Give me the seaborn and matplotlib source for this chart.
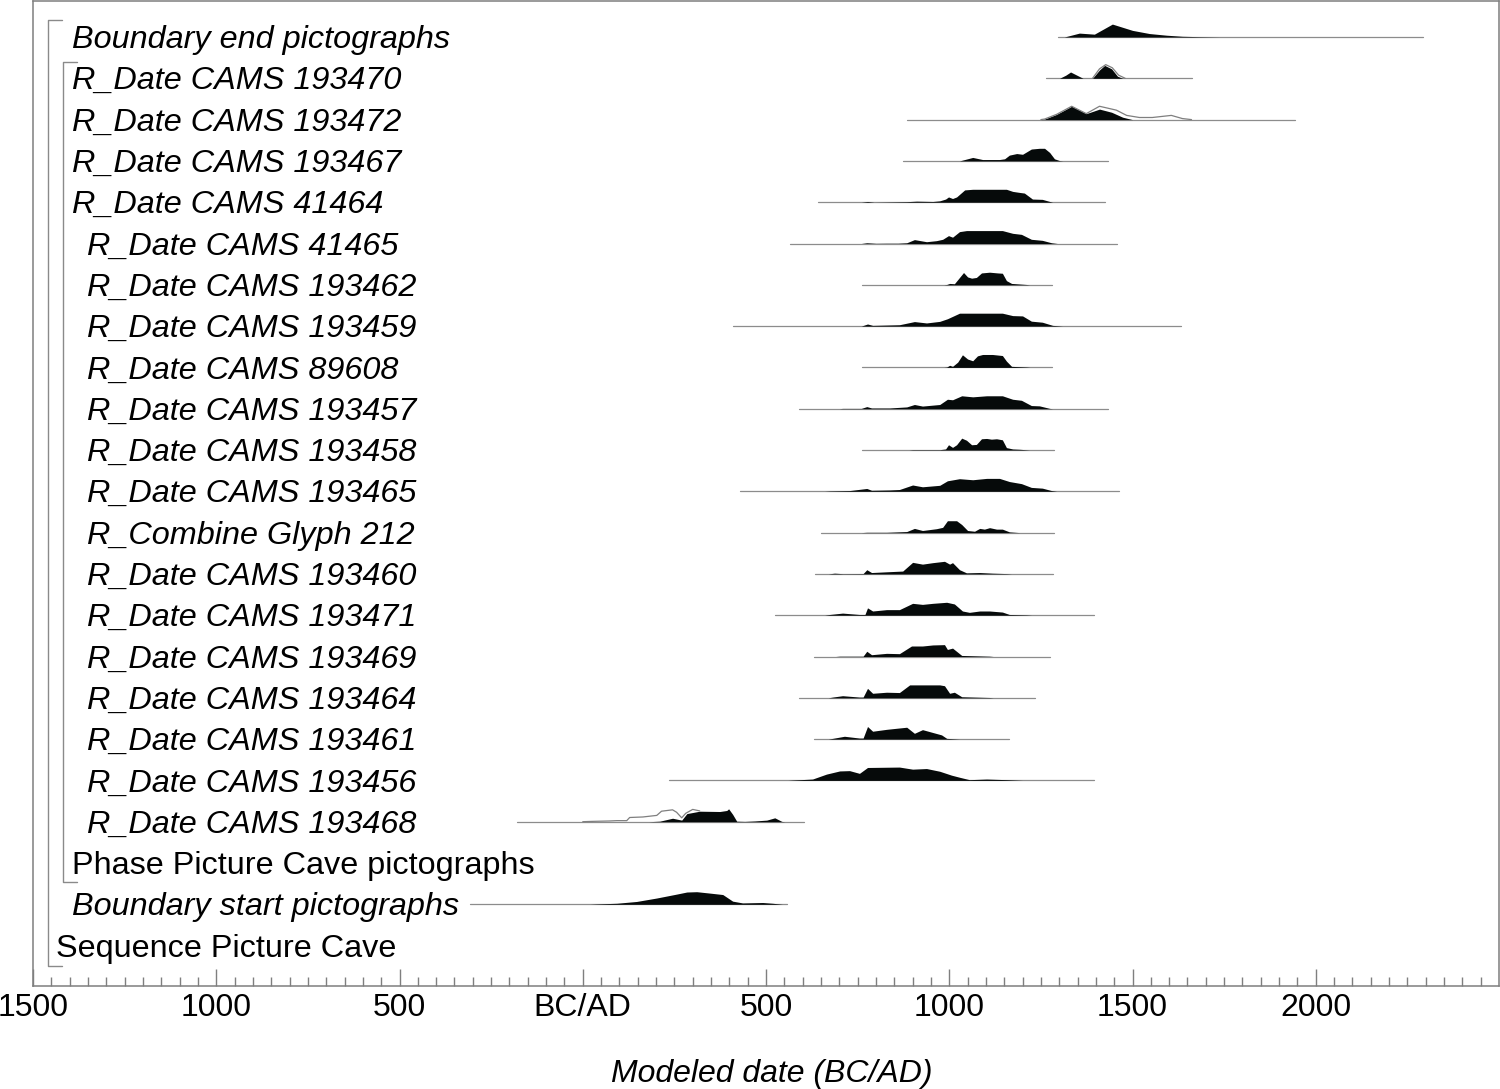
import numpy as np
import matplotlib
matplotlib.use("Agg")
import matplotlib.pyplot as plt
import seaborn as sns

# row labels, top to bottom
labels = ["Boundary end pictographs",
          "R_Date CAMS 193470", "R_Date CAMS 193472", "R_Date CAMS 193467",
          "R_Date CAMS 41464", "R_Date CAMS 41465", "R_Date CAMS 193462",
          "R_Date CAMS 193459", "R_Date CAMS 89608", "R_Date CAMS 193457",
          "R_Date CAMS 193458", "R_Date CAMS 193465", "R_Combine Glyph 212",
          "R_Date CAMS 193460", "R_Date CAMS 193471", "R_Date CAMS 193469",
          "R_Date CAMS 193464", "R_Date CAMS 193461", "R_Date CAMS 193456",
          "R_Date CAMS 193468", "Phase Picture Cave pictographs",
          "Boundary start pictographs", "Sequence Picture Cave"]
upright = ["Phase Picture Cave pictographs", "Sequence Picture Cave"]

# modelled (posterior) distributions: calendar year (AD, negative = BC) and relative probability
end_span = (1298, 2293)
end_yr = [1314, 1355, 1396, 1445, 1500, 1546, 1593, 1636, 1683, 1737]
end_p = [0, 3.7, 2.7, 12.3, 6.3, 3.3, 1.7, 0.7, 0.3, 0]

d193470_span = (1265, 1661)
d193470_yr = [1301, 1318, 1331, 1348, 1365, 1391, 1410, 1424, 1443, 1459, 1473]
d193470_p = [0, 3, 6, 3, 0, 0, 8, 12.3, 9, 2, 0]
d193470_lik_yr = [1391, 1410, 1427, 1445, 1462, 1480]
d193470_lik_p = [0, 9, 13, 10, 3, 0]

d193472_span = (884, 1944)
d193472_yr = [1250, 1260, 1293, 1334, 1374, 1410, 1443, 1473, 1500]
d193472_p = [0, 0.5, 5, 12.7, 5.7, 10, 7, 2.3, 0]
d193472_lik_yr = [1250, 1260, 1293, 1334, 1374, 1410, 1456, 1484, 1519, 1554, 1606, 1636, 1661]
d193472_lik_p = [0, 0.5, 5, 12.7, 5.7, 12.7, 9, 4, 2, 2, 4, 1, 0]

d193467_span = (873, 1434)
d193467_yr = [1028, 1064, 1091, 1137, 1151, 1164, 1184, 1200, 1224, 1246, 1260, 1274, 1287, 1301, 1310]
d193467_p = [0, 3.3, 1.3, 1.3, 2, 5.5, 7, 6.3, 11.3, 12, 12, 8, 2, 0.3, 0]

d41464_span = (641, 1426)
d41464_yr = [760, 777, 795, 884, 911, 955, 974, 990, 998, 1009, 1020, 1042, 1064, 1156, 1173,
             1192, 1205, 1227, 1254, 1274, 1282]
d41464_p = [0, 0.7, 0, 0.5, 1, 0.7, 1.3, 3, 5, 3.5, 5, 11.7, 12.3, 12.3, 10.3,
            9.3, 8.7, 3, 2.7, 0.7, 0]

d41465_span = (565, 1459)
d41465_yr = [760, 775, 800, 829, 860, 884, 905, 938, 965, 982, 998, 1009, 1028, 1047, 1145,
             1173, 1197, 1224, 1254, 1279, 1295]
d41465_p = [0, 0.7, 0.2, 0.3, 0.3, 0.7, 3.7, 1.7, 2.7, 4, 7.5, 6, 11.3, 12.3, 12.3,
            9.7, 8.7, 4, 3, 0.7, 0]

d193462_span = (761, 1279)
d193462_yr = [985, 993, 1001, 1014, 1028, 1039, 1050, 1061, 1074, 1088, 1110, 1132, 1145, 1156,
              1170, 1211, 1219]
d193462_p = [0, 0.3, 1.3, 1, 7, 11.7, 7.5, 6.3, 7, 11.3, 12, 11.3, 11, 4, 1.3, 0.3, 0]

d193459_span = (409, 1631)
d193459_yr = [760, 777, 791, 864, 905, 938, 974, 995, 1028, 1145, 1173, 1200, 1224, 1254, 1282, 1309]
d193459_p = [0, 2, 0.7, 1.3, 4.3, 3, 4.5, 7, 12.3, 12.3, 10, 9.7, 4.7, 3.7, 0.7, 0]

d89608_span = (761, 1279)
d89608_yr = [985, 993, 1001, 1009, 1023, 1036, 1050, 1064, 1077, 1091, 1118, 1145, 1156, 1170,
             1211, 1220]
d89608_p = [0, 0.3, 2, 1, 5, 12, 8, 6.3, 11, 12.3, 12.3, 11.3, 6, 1, 0.3, 0]

d193457_span = (589, 1432)
d193457_yr = [700, 709, 760, 775, 788, 837, 884, 905, 927, 974, 995, 1009, 1034, 1064, 1102,
              1145, 1173, 1197, 1224, 1246, 1274, 1282]
d193457_p = [0, 0.3, 0.3, 2, 0.7, 0.7, 1.7, 4, 2.5, 4, 9, 8.5, 12.3, 11.3, 12.3,
             12.3, 9, 8, 3, 2.7, 0.3, 0]

d193458_span = (761, 1287)
d193458_yr = [890, 900, 974, 990, 998, 1009, 1020, 1034, 1047, 1061, 1074, 1088, 1102, 1115,
              1129, 1145, 1156, 1173, 1192, 1219]
d193458_p = [0, 0.3, 0.3, 1, 5, 2.5, 5, 11.3, 9.3, 5, 5.3, 10.7, 11, 10.3,
             10.7, 9.7, 2.3, 1, 0.7, 0]

d193465_span = (428, 1464)
d193465_yr = [660, 674, 728, 775, 788, 837, 864, 900, 927, 974, 995, 1028, 1064, 1102, 1137,
              1164, 1197, 1224, 1254, 1279, 1293]
d193465_p = [0, 0.3, 0.7, 2.7, 1, 1.3, 1.7, 6, 4.3, 5.7, 10, 12, 11, 12.3, 12.3,
             9.3, 7.3, 3.7, 3, 0.7, 0]

glyph212_span = (649, 1287)
glyph212_yr = [760, 775, 829, 884, 905, 927, 965, 982, 995, 1020, 1034, 1050, 1069, 1083, 1096,
               1110, 1129, 1145, 1164, 1192]
glyph212_p = [0, 0.3, 0.3, 1, 4, 2, 3.7, 5, 11.3, 11.3, 7.7, 2, 1.3, 4, 3.3,
              4.7, 3.3, 3.3, 0.7, 0]

d193460_span = (635, 1282)
d193460_yr = [670, 687, 710, 765, 775, 788, 829, 873, 900, 927, 955, 987, 1001, 1009, 1028,
              1047, 1083, 1118, 1156, 1170]
d193460_p = [0, 0.7, 0.2, 0.3, 4, 1.3, 2, 2.7, 11, 9.3, 10.7, 12, 9.3, 10.7, 4,
             1, 1.3, 0.7, 0.3, 0]

d193471_span = (524, 1396)
d193471_yr = [660, 674, 709, 755, 770, 777, 791, 829, 864, 900, 927, 955, 993, 1014, 1036,
              1055, 1083, 1110, 1145, 1164, 1211, 1225]
d193471_p = [0, 0.7, 2, 0.7, 0.7, 7, 4, 5.3, 5.3, 11.3, 10.3, 11.3, 12.3, 10.7, 4,
             2.7, 4, 4, 3, 0.7, 0.3, 0]

d193469_span = (630, 1274)
d193469_yr = [690, 701, 765, 775, 788, 829, 864, 897, 927, 955, 987, 995, 1009, 1034, 1110, 1120]
d193469_p = [0, 0.3, 0.3, 5, 1.7, 3, 2.7, 10, 10, 11, 11.3, 6.7, 8, 1, 0.3, 0]

d193464_span = (589, 1233)
d193464_yr = [670, 682, 709, 755, 765, 777, 791, 829, 864, 892, 974, 987, 1001, 1014, 1034,
              1110, 1120]
d193464_p = [0, 0.7, 2, 0.7, 0.7, 9, 4.3, 5.3, 5, 12.3, 12.3, 11.5, 4.3, 5.3, 1, 0.3, 0]

d193461_span = (630, 1162)
d193461_yr = [670, 682, 714, 755, 765, 777, 791, 829, 856, 884, 905, 927, 955, 979, 993, 1028]
d193461_p = [0, 0.7, 2.7, 1, 1, 12, 7.5, 9.3, 10.3, 11.3, 5.5, 9, 6.3, 4, 0.7, 0]

d193456_span = (235, 1396)
d193456_yr = [560, 573, 627, 665, 701, 728, 755, 777, 864, 900, 938, 974, 1006, 1028, 1055,
              1102, 1156, 1200]
d193456_p = [0, 0.3, 1.3, 6, 9, 9.3, 6.7, 12.3, 12.7, 10.7, 11.3, 8.7, 5, 3, 0.7,
             1.3, 0.7, 0]

d193468_span = (-180, 605)
d193468_yr = [180, 210, 245, 270, 284, 319, 374, 393, 398, 409, 420, 442, 469, 502, 524, 543, 551]
d193468_p = [0, 0.5, 3.3, 1.5, 7.7, 10, 9.7, 10.7, 12.3, 7, 0.5, 0.3, 0.7, 1.5, 3.7, 0.3, 0]
d193468_lik_yr = [0, 25, 74, 93, 120, 128, 164, 202, 215, 245, 256, 270, 281, 300, 319]
d193468_lik_p = [0, 0.3, 0.7, 1, 1, 4, 4.5, 6, 10, 11.3, 9, 3.7, 8, 11.7, 10.3]

start_span = (-308, 556)
start_yr = [20, 38, 93, 147, 202, 256, 284, 311, 346, 382, 409, 436, 491, 518, 545]
start_p = [0, 0.3, 1, 2.7, 6, 9.7, 11.7, 12, 10.7, 9.3, 3, 1.3, 1.7, 1, 0]

tick_years = [-1500, -1000, -500, 0, 500, 1000, 1500, 2000]
tick_labels = ["1500", "1000", "500", "BC/AD", "500", "1000", "1500", "2000"]

# row index -> (span, years, prob, likelihood years, likelihood prob)
rows = {
    0: (end_span, end_yr, end_p, None, None),
    1: (d193470_span, d193470_yr, d193470_p, d193470_lik_yr, d193470_lik_p),
    2: (d193472_span, d193472_yr, d193472_p, d193472_lik_yr, d193472_lik_p),
    3: (d193467_span, d193467_yr, d193467_p, None, None),
    4: (d41464_span, d41464_yr, d41464_p, None, None),
    5: (d41465_span, d41465_yr, d41465_p, None, None),
    6: (d193462_span, d193462_yr, d193462_p, None, None),
    7: (d193459_span, d193459_yr, d193459_p, None, None),
    8: (d89608_span, d89608_yr, d89608_p, None, None),
    9: (d193457_span, d193457_yr, d193457_p, None, None),
    10: (d193458_span, d193458_yr, d193458_p, None, None),
    11: (d193465_span, d193465_yr, d193465_p, None, None),
    12: (glyph212_span, glyph212_yr, glyph212_p, None, None),
    13: (d193460_span, d193460_yr, d193460_p, None, None),
    14: (d193471_span, d193471_yr, d193471_p, None, None),
    15: (d193469_span, d193469_yr, d193469_p, None, None),
    16: (d193464_span, d193464_yr, d193464_p, None, None),
    17: (d193461_span, d193461_yr, d193461_p, None, None),
    18: (d193456_span, d193456_yr, d193456_p, None, None),
    19: (d193468_span, d193468_yr, d193468_p, d193468_lik_yr, d193468_lik_p),
    21: (start_span, start_yr, start_p, None, None),
}

sns.set_style("white")
plt.rcParams["font.family"] = ["Liberation Sans", "DejaVu Sans"]
plt.rcParams["text.color"] = "black"

fig = plt.figure(figsize=(15, 10.89), dpi=100)
ax = fig.add_axes([33 / 1500, 103 / 1089, 1466 / 1500, 985 / 1089])

px = 41.3        # pixels per row
hscale = 1.05 / px  # probability (px) -> row units
grey = "#7f7f7f"

for i, (span, yr, p, lyr, lp) in rows.items():
    ax.plot(span, [i, i], color="#8c8c8c", lw=0.9, zorder=1)
    ax.fill_between(yr, i, i - np.array(p) * hscale, color="#060a0a", lw=0, zorder=2)
    if lyr is not None:
        sns.lineplot(x=lyr, y=i - np.array(lp) * hscale, ax=ax, sort=False,
                     estimator=None, color=grey, lw=0.9, zorder=3)

# labels; rows 5..19 sit a little further right, the sequence label further left
for i, lab in enumerate(labels):
    if i == 22:
        x0 = -1437
    elif 5 <= i <= 19:
        x0 = -1353
    else:
        x0 = -1394
    ax.text(x0, i + 11 / px, lab, ha="left", va="baseline", fontsize=23.3,
            color="black", style="normal" if lab in upright else "italic")

# sequence and phase brackets
bcol = "#8a8a8a"
seq_top, seq_bot = 0 - 0.41, 22 + 0.49
ax.plot([-1421, -1459, -1459, -1421], [seq_top, seq_top, seq_bot, seq_bot], color=bcol, lw=1)
ph_top, ph_bot = 1 - 0.4, 20 + 0.46
ax.plot([-1380, -1418, -1418, -1380], [ph_top, ph_top, ph_bot, ph_bot], color=bcol, lw=1)

ax.set_xlim(-1500, 2500)
ax.set_ylim(22 + (986 - 37 - 22 * px) / px, -(37 - 1) / px)
ax.set_yticks([])
ax.set_xticks(tick_years)
ax.set_xticklabels(tick_labels)
ax.set_xticks(np.arange(-1450, 2500, 50), minor=True)
ax.tick_params(axis="x", which="both", bottom=True, top=False)
ax.tick_params(axis="x", which="major", direction="in", length=12.2, width=1,
               color=grey, labelcolor="black", labelsize=23, pad=5)
ax.tick_params(axis="x", which="minor", direction="in", length=6.5, width=1, color=grey)
for s in ax.spines.values():
    s.set_color(grey)
    s.set_linewidth(1.1)

fig.text(772 / 1500, (1089 - 1082) / 1089, "Modeled date (BC/AD)", ha="center",
         va="baseline", fontsize=23, style="italic", color="black")

fig.savefig("out.png", dpi=100)
